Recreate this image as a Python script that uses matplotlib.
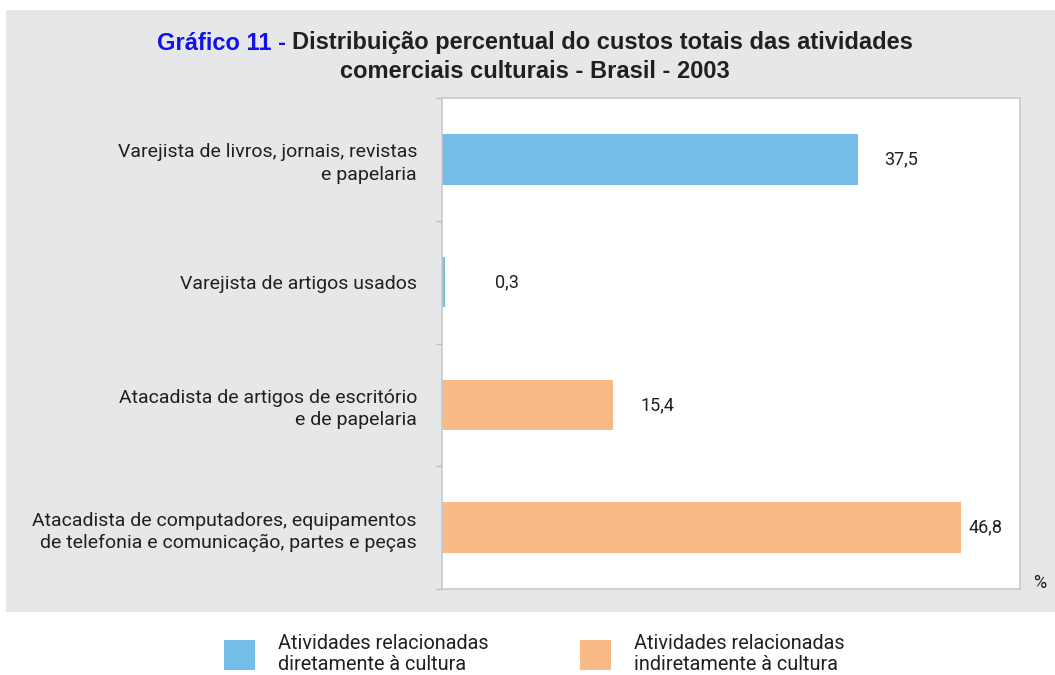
import matplotlib.pyplot as plt
from matplotlib.patches import Rectangle

# data
categories = [
    "Varejista de livros, jornais, revistas\ne papelaria",
    "Varejista de artigos usados",
    "Atacadista de artigos de escritório\ne de papelaria",
    "Atacadista de computadores, equipamentos\nde telefonia e comunicação, partes e peças",
]
values = [37.5, 0.3, 15.4, 46.8]
value_labels = ["37,5", "0,3", "15,4", "46,8"]
groups = ["direct", "direct", "indirect", "indirect"]
legend_labels = [
    "Atividades relacionadas\ndiretamente à cultura",
    "Atividades relacionadas\nindiretamente à cultura",
]

colors = {"direct": "#74BDE8", "indirect": "#F9BB85"}
label_pad_px = [26, 50, 28, 7]
text_color = "#231F20"
font = ["Roboto", "DejaVu Sans"]
fs = 14

plt.rcParams["font.family"] = font

W, H = 1055, 675
fig = plt.figure(figsize=(W / 100, H / 100), dpi=100)
fig.patch.set_facecolor("white")

# gray panel behind the chart
fig.patches.append(Rectangle((6 / W, 1 - 612 / H), 1 - 6 / W, 602 / H,
                             transform=fig.transFigure, facecolor="#E6E7E9",
                             edgecolor="none", zorder=-5))

ax = fig.add_axes([442 / W, 1 - 589 / H, (1020 - 442) / W, (589 - 98) / H])
ax.set_zorder(2)
ax.set_facecolor("white")

ypos = list(range(len(categories)))
bar_colors = [colors[g] for g in groups]
ax.barh(ypos, values, height=0.41, color=bar_colors, zorder=2)

ax.set_xlim(0, 52.1)
ax.set_ylim(len(categories) - 0.5, -0.5)
ax.set_xticks([])
ax.set_yticks(ypos)
ax.set_yticklabels(categories, fontsize=fs, color=text_color, linespacing=1.3)
ax.tick_params(axis="y", which="major", length=0, pad=18)
ax.set_yticks([i - 0.5 for i in range(len(categories) + 1)], minor=True)
ax.tick_params(axis="y", which="minor", length=4, color="#BDBEC0", width=1)

for s in ax.spines.values():
    s.set_color("#C8C9CB")
    s.set_linewidth(1.2)

px_per_unit = (1020 - 442) / 52.1
for y, v, lab, pad in zip(ypos, values, value_labels, label_pad_px):
    ax.text(v + pad / px_per_unit, y, lab, va="center", ha="left",
            fontsize=13, color=text_color)

fig.text(1040 / W, 1 - 583 / H, "%", ha="center", va="center",
         fontsize=13, color=text_color)

# title with blue prefix
title_font = ["Liberation Sans", "DejaVu Sans"]
tfs = 17
renderer = fig.canvas.get_renderer()
t_blue = fig.text(0, 0, "Gráfico 11 - ", fontsize=tfs, fontweight="bold",
                  color="#1010F0", family=title_font, va="center")
t_rest = fig.text(0, 0, "Distribuição percentual do custos totais das atividades",
                  fontsize=tfs, fontweight="bold", color=text_color,
                  family=title_font, va="center")
w1 = t_blue.get_window_extent(renderer).width
w2 = t_rest.get_window_extent(renderer).width
cx = 535
x0 = cx - (w1 + w2) / 2
t_blue.set_position((x0 / W, 1 - 43 / H))
t_rest.set_position(((x0 + w1) / W, 1 - 43 / H))
fig.text(cx / W, 1 - 72 / H, "comerciais culturais - Brasil - 2003",
         ha="center", va="center", fontsize=tfs, fontweight="bold",
         color=text_color, family=title_font)

# legend drawn by hand
for key, lab, lx in zip(["direct", "indirect"], legend_labels, [224, 580]):
    fig.patches.append(Rectangle((lx / W, 1 - 670 / H), 31 / W, 30 / H,
                                 transform=fig.transFigure,
                                 facecolor=colors[key], edgecolor="none"))
    fig.text((lx + 54) / W, 1 - 654 / H, lab, ha="left", va="center",
             fontsize=14.3, color=text_color, linespacing=1.15)

fig.savefig("out.png", dpi=100)
